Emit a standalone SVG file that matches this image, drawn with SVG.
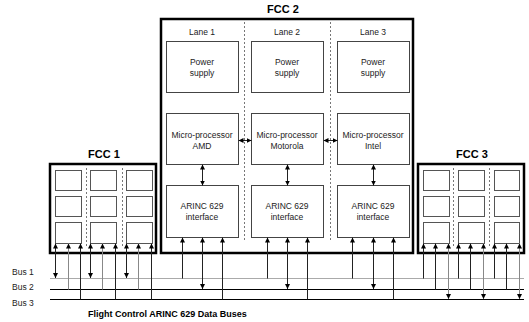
<svg xmlns="http://www.w3.org/2000/svg" width="529" height="322" viewBox="0 0 529 322">
<style>
text{font-family:"Liberation Sans",Arial,sans-serif;fill:#222}
.t{font-size:8.5px;text-anchor:middle}
.h{font-size:11px;font-weight:bold;text-anchor:middle;fill:#000}
.bl{font-size:8.5px}
.frame{fill:#fff;stroke:#000;stroke-width:2.5}
.box{fill:#fff;stroke:#444;stroke-width:1}
.sb{fill:#fff;stroke:#555;stroke-width:1}
.dash{stroke:#777;stroke-width:1;stroke-dasharray:2,2;fill:none}
.c{stroke:#222;stroke-width:1;fill:none}
.g{stroke:#888;stroke-width:1;fill:none}
.u{marker-end:url(#ah)}
.b{marker-start:url(#ah);marker-end:url(#ah)}
</style>
<defs>
<marker id="ah" viewBox="0 0 6 6" refX="6" refY="3" markerWidth="5" markerHeight="5" markerUnits="userSpaceOnUse" orient="auto-start-reverse"><path d="M0,0 L6,3 L0,6 z" fill="#000"/></marker>
</defs>
<rect width="529" height="322" fill="#fff"/>

<g id="fcc2">
<rect class="frame" x="161" y="19" width="252" height="234"/>
<text class="h" x="283" y="13">FCC 2</text>
<line class="dash" x1="244.5" y1="22" x2="244.5" y2="242"/>
<line class="dash" x1="330.5" y1="22" x2="330.5" y2="242"/>
<text class="t" x="202" y="35">Lane 1</text>
<text class="t" x="287" y="35">Lane 2</text>
<text class="t" x="373" y="35">Lane 3</text>
</g>

<g id="ps1"><rect class="box" x="166.5" y="41.5" width="72" height="51"/><text class="t" x="202" y="65">Power</text><text class="t" x="202" y="75.5">supply</text></g>
<g id="ps2"><rect class="box" x="251.5" y="41.5" width="72" height="51"/><text class="t" x="287" y="65">Power</text><text class="t" x="287" y="75.5">supply</text></g>
<g id="ps3"><rect class="box" x="337.5" y="41.5" width="72" height="51"/><text class="t" x="373" y="65">Power</text><text class="t" x="373" y="75.5">supply</text></g>

<g id="mp1"><rect class="box" x="166.5" y="113.5" width="72" height="51"/><text class="t" x="202" y="138">Micro-processor</text><text class="t" x="202" y="148.5">AMD</text></g>
<g id="mp2"><rect class="box" x="251.5" y="113.5" width="72" height="51"/><text class="t" x="287" y="138">Micro-processor</text><text class="t" x="287" y="148.5">Motorola</text></g>
<g id="mp3"><rect class="box" x="337.5" y="113.5" width="72" height="51"/><text class="t" x="373" y="138">Micro-processor</text><text class="t" x="373" y="148.5">Intel</text></g>

<g id="ar1"><rect class="box" x="166.5" y="185.5" width="72" height="52"/><text class="t" x="202" y="209">ARINC 629</text><text class="t" x="202" y="220">interface</text></g>
<g id="ar2"><rect class="box" x="251.5" y="185.5" width="72" height="52"/><text class="t" x="287" y="209">ARINC 629</text><text class="t" x="287" y="220">interface</text></g>
<g id="ar3"><rect class="box" x="337.5" y="185.5" width="72" height="52"/><text class="t" x="373" y="209">ARINC 629</text><text class="t" x="373" y="220">interface</text></g>

<g id="fcc1">
<rect class="frame" x="50" y="164" width="106" height="89"/>
<text class="h" x="104" y="158">FCC 1</text>
<line class="dash" x1="86.5" y1="168" x2="86.5" y2="246"/>
<line class="dash" x1="122.5" y1="168" x2="122.5" y2="246"/>
<rect class="sb" x="55.5" y="170.5" width="26" height="20"/><rect class="sb" x="90.5" y="170.5" width="26" height="20"/><rect class="sb" x="126.5" y="170.5" width="26" height="20"/>
<rect class="sb" x="55.5" y="196.5" width="26" height="20"/><rect class="sb" x="90.5" y="196.5" width="26" height="20"/><rect class="sb" x="126.5" y="196.5" width="26" height="20"/>
<rect class="sb" x="55.5" y="222.5" width="26" height="21"/><rect class="sb" x="90.5" y="222.5" width="26" height="21"/><rect class="sb" x="126.5" y="222.5" width="26" height="21"/>
</g>

<g id="fcc3">
<rect class="frame" x="418" y="164" width="106" height="89"/>
<text class="h" x="472" y="158">FCC 3</text>
<line class="dash" x1="453.5" y1="168" x2="453.5" y2="246"/>
<line class="dash" x1="489.5" y1="168" x2="489.5" y2="246"/>
<rect class="sb" x="423.5" y="170.5" width="26" height="20"/><rect class="sb" x="458.5" y="170.5" width="26" height="20"/><rect class="sb" x="494.5" y="170.5" width="25" height="20"/>
<rect class="sb" x="423.5" y="196.5" width="26" height="20"/><rect class="sb" x="458.5" y="196.5" width="26" height="20"/><rect class="sb" x="494.5" y="196.5" width="25" height="20"/>
<rect class="sb" x="423.5" y="222.5" width="26" height="21"/><rect class="sb" x="458.5" y="222.5" width="26" height="21"/><rect class="sb" x="494.5" y="222.5" width="25" height="21"/>
</g>

<g id="buses">
<line x1="50" y1="278.5" x2="524" y2="278.5" stroke="#aaa" stroke-width="1"/>
<line x1="50" y1="289.5" x2="524" y2="289.5" stroke="#000" stroke-width="1"/>
<line x1="50" y1="299.5" x2="524" y2="299.5" stroke="#000" stroke-width="1.2"/>
<text class="bl" x="12" y="275">Bus 1</text>
<text class="bl" x="12" y="290">Bus 2</text>
<text class="bl" x="12" y="306">Bus 3</text>
<text x="88" y="317" style="font-size:9px;font-weight:bold;fill:#000">Flight Control ARINC 629 Data Buses</text>
</g>

<g id="connectors">
<!-- FCC2 internal -->
<line class="c b" x1="238.5" y1="140.5" x2="251.5" y2="140.5"/>
<line class="c b" x1="323.5" y1="140.5" x2="337.5" y2="140.5"/>
<line class="c b" x1="202.5" y1="164.5" x2="202.5" y2="185.5"/>
<line class="c b" x1="287.5" y1="164.5" x2="287.5" y2="185.5"/>
<line class="c b" x1="373.5" y1="164.5" x2="373.5" y2="185.5"/>
<!-- FCC2 to buses -->
<line class="c u" x1="182.5" y1="278.5" x2="182.5" y2="237.5"/>
<line class="c b" x1="202.5" y1="289" x2="202.5" y2="237.5"/>
<line class="c u" x1="222.5" y1="299.5" x2="222.5" y2="237.5"/>
<line class="c u" x1="267.5" y1="278.5" x2="267.5" y2="237.5"/>
<line class="c b" x1="287.5" y1="289" x2="287.5" y2="237.5"/>
<line class="c u" x1="307.5" y1="299.5" x2="307.5" y2="237.5"/>
<line class="c u" x1="352.5" y1="278.5" x2="352.5" y2="237.5"/>
<line class="c b" x1="373.5" y1="289" x2="373.5" y2="237.5"/>
<line class="c u" x1="393.5" y1="299.5" x2="393.5" y2="237.5"/>
<!-- FCC1 to buses -->
<line class="c b" x1="55.5" y1="278" x2="55.5" y2="243.5"/>
<line class="g u" x1="68.5" y1="289.5" x2="68.5" y2="243.5"/>
<line class="c u" x1="80.5" y1="299.5" x2="80.5" y2="243.5"/>
<line class="c b" x1="90.5" y1="278" x2="90.5" y2="243.5"/>
<line class="g u" x1="102.5" y1="289.5" x2="102.5" y2="243.5"/>
<line class="c u" x1="115.5" y1="299.5" x2="115.5" y2="243.5"/>
<line class="c b" x1="126.5" y1="278" x2="126.5" y2="243.5"/>
<line class="g u" x1="138.5" y1="289.5" x2="138.5" y2="243.5"/>
<line class="c u" x1="151.5" y1="299.5" x2="151.5" y2="243.5"/>
<!-- FCC3 to buses -->
<line class="c u" x1="423.5" y1="278.5" x2="423.5" y2="243.5"/>
<line class="c u" x1="435.5" y1="289.5" x2="435.5" y2="243.5"/>
<line class="g b" x1="448.5" y1="299" x2="448.5" y2="243.5"/>
<line class="c u" x1="458.5" y1="278.5" x2="458.5" y2="243.5"/>
<line class="c u" x1="470.5" y1="289.5" x2="470.5" y2="243.5"/>
<line class="g b" x1="483.5" y1="299" x2="483.5" y2="243.5"/>
<line class="c u" x1="494.5" y1="278.5" x2="494.5" y2="243.5"/>
<line class="c u" x1="506.5" y1="289.5" x2="506.5" y2="243.5"/>
<line class="g b" x1="519.5" y1="299" x2="519.5" y2="243.5"/>
</g>
</svg>
